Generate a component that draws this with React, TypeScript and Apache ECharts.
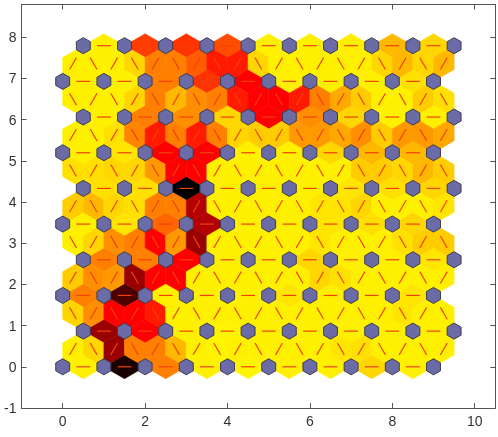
import React, { useEffect, useRef } from "react";
import * as echarts from "echarts";

// SOM: 10 x 10 hexagonal topology
const GRID_COLS = 10;
const GRID_ROWS = 10;
const xTicks = [0, 2, 4, 6, 8, 10];
const yTicks = [-1, 0, 1, 2, 3, 4, 5, 6, 7, 8];

// neighbour distances (0 = close, 1 = far) for horizontal links, per row, left to right
const hRow0 = [0.03, 0.95, 0.25, 0.03, 0.02, 0.03, 0.03, 0.08, 0.03];
const hRow1 = [0.7, 0.5, 0.03, 0.02, 0.03, 0.03, 0.03, 0.03, 0.03];
const hRow2 = [0.25, 0.85, 0.03, 0.03, 0.03, 0.05, 0.03, 0.03, 0.05];
const hRow3 = [0.25, 0.25, 0.5, 0.03, 0.03, 0.08, 0.03, 0.03, 0.05];
const hRow4 = [0.03, 0.05, 0.3, 0.65, 0.03, 0.03, 0.05, 0.06, 0.08];
const hRow5 = [0.06, 0.06, 1.0, 0.03, 0.03, 0.03, 0.05, 0.06, 0.08];
const hRow6 = [0.03, 0.05, 0.5, 0.5, 0.03, 0.03, 0.08, 0.14, 0.14];
const hRow7 = [0.03, 0.25, 0.22, 0.08, 0.5, 0.22, 0.08, 0.03, 0.03];
const hRow8 = [0.03, 0.03, 0.25, 0.4, 0.5, 0.03, 0.03, 0.03, 0.06];
const hRow9 = [0.03, 0.38, 0.4, 0.35, 0.03, 0.03, 0.03, 0.14, 0.08];

// neighbour distances for diagonal links between row g and row g+1, left to right
const dGap0 = [0.03, 0.08, 0.7, 0.25, 0.25, 0.14, 0.03, 0.02, 0.03, 0.03, 0.03, 0.03, 0.03, 0.05, 0.06, 0.03, 0.03, 0.03, 0.03];
const dGap1 = [0.08, 0.22, 0.5, 0.5, 0.45, 0.03, 0.03, 0.03, 0.03, 0.03, 0.03, 0.03, 0.03, 0.03, 0.03, 0.03, 0.05, 0.03, 0.03];
const dGap2 = [0.1, 0.22, 0.2, 0.7, 0.5, 0.5, 0.03, 0.03, 0.03, 0.03, 0.03, 0.03, 0.08, 0.06, 0.03, 0.03, 0.03, 0.03, 0.03];
const dGap3 = [0.03, 0.08, 0.22, 0.25, 0.5, 0.2, 0.7, 0.03, 0.03, 0.03, 0.03, 0.03, 0.05, 0.03, 0.03, 0.03, 0.06, 0.1, 0.1];
const dGap4 = [0.1, 0.14, 0.08, 0.06, 0.25, 0.25, 0.65, 0.03, 0.03, 0.03, 0.03, 0.03, 0.05, 0.05, 0.08, 0.03, 0.03, 0.03, 0.05];
const dGap5 = [0.06, 0.06, 0.08, 0.08, 0.2, 0.5, 0.5, 0.03, 0.03, 0.03, 0.03, 0.03, 0.03, 0.03, 0.1, 0.1, 0.08, 0.14, 0.1];
const dGap6 = [0.03, 0.03, 0.06, 0.24, 0.45, 0.25, 0.45, 0.25, 0.08, 0.1, 0.1, 0.2, 0.2, 0.17, 0.22, 0.1, 0.2, 0.2, 0.17];
const dGap7 = [0.03, 0.03, 0.03, 0.08, 0.25, 0.14, 0.22, 0.25, 0.45, 0.5, 0.5, 0.45, 0.25, 0.17, 0.1, 0.03, 0.03, 0.1, 0.06];
const dGap8 = [0.03, 0.03, 0.03, 0.08, 0.25, 0.25, 0.32, 0.45, 0.45, 0.08, 0.03, 0.03, 0.03, 0.03, 0.03, 0.08, 0.14, 0.08, 0.14];

const hRows = [hRow0, hRow1, hRow2, hRow3, hRow4, hRow5, hRow6, hRow7, hRow8, hRow9];
const dGaps = [dGap0, dGap1, dGap2, dGap3, dGap4, dGap5, dGap6, dGap7, dGap8];

const ROW_H = Math.sqrt(3) / 2;
const rowOffset = (r: number) => (r % 2) * 0.5;

function distColor(d: number) {
  const level = 1 - d;
  const r = Math.min(level * 2, 1);
  const g = Math.max(level * 2 - 1, 0);
  return `rgb(${Math.round(r * 255)},${Math.round(g * 255)},0)`;
}

function buildEdges() {
  const edges: number[][] = [];
  hRows.forEach((row, r) => {
    row.forEach((d, c) => {
      const x = c + rowOffset(r);
      edges.push([x, r * ROW_H, x + 1, r * ROW_H, d]);
    });
  });
  dGaps.forEach((gap, g) => {
    gap.forEach((d, m) => {
      const a = 0.5 * m;
      const lowerValid = Math.abs((a - rowOffset(g)) - Math.round(a - rowOffset(g))) < 1e-6;
      const lx = lowerValid ? a : a + 0.5;
      const ux = lowerValid ? a + 0.5 : a;
      edges.push([lx, g * ROW_H, ux, (g + 1) * ROW_H, d]);
    });
  });
  return edges;
}

function buildNeurons() {
  const n: number[][] = [];
  for (let r = 0; r < GRID_ROWS; r++) {
    for (let c = 0; c < GRID_COLS; c++) {
      n.push([c + rowOffset(r), r * ROW_H]);
    }
  }
  return n;
}

export default function App() {
  const ref = useRef<HTMLDivElement>(null);
  useEffect(() => {
    if (!ref.current) return;
    const chart = echarts.init(ref.current, undefined, { renderer: "svg" });
    const K = Math.sqrt(0.75) / 3;
    const NR = 0.195;
    const axisColor = "#555555";
    const labelStyle = { color: "#333", fontSize: 14, fontFamily: "Liberation Sans, Arial, sans-serif" };
    const line = { show: true, onZero: false, lineStyle: { color: axisColor, width: 1 } };
    chart.setOption({
      animation: false,
      grid: { left: 21.5, right: 2.7, top: 4.5, bottom: 29, containLabel: false, outerBoundsMode: "none" },
      xAxis: [
        {
          type: "value", min: -1, max: 10.5, position: "bottom",
          axisLine: line,
          axisTick: { show: true, inside: true, length: 5, customValues: xTicks, lineStyle: { color: axisColor } },
          axisLabel: { show: true, customValues: xTicks, margin: 6, ...labelStyle },
          splitLine: { show: false },
        },
        {
          type: "value", min: -1, max: 10.5, position: "top",
          axisLine: line,
          axisTick: { show: true, inside: true, length: 5, customValues: xTicks, lineStyle: { color: axisColor } },
          axisLabel: { show: false },
          splitLine: { show: false },
        },
      ],
      yAxis: [
        {
          type: "value", min: -1, max: 8.794, position: "left",
          axisLine: line,
          axisTick: { show: true, inside: true, length: 5, customValues: yTicks, lineStyle: { color: axisColor } },
          axisLabel: { show: true, customValues: yTicks, margin: 5, ...labelStyle },
          splitLine: { show: false },
        },
        {
          type: "value", min: -1, max: 8.794, position: "right",
          axisLine: line,
          axisTick: { show: true, inside: true, length: 5, customValues: yTicks, lineStyle: { color: axisColor } },
          axisLabel: { show: false },
          splitLine: { show: false },
        },
      ],
      series: [
        {
          type: "custom",
          coordinateSystem: "cartesian2d",
          xAxisIndex: 0, yAxisIndex: 0,
          encode: { x: [0, 2], y: [1, 3] },
          data: buildEdges(),
          z: 2,
          silent: true,
          renderItem: (params: any, api: any) => {
            const x1 = api.value(0), y1 = api.value(1), x2 = api.value(2), y2 = api.value(3), d = api.value(4);
            const mx = (x1 + x2) / 2, my = (y1 + y2) / 2;
            const dx = x2 - x1, dy = y2 - y1;
            const nx = -dy * K, ny = dx * K;
            const pts = [[x1, y1], [mx + nx, my + ny], [x2, y2], [mx - nx, my - ny]].map((p) => api.coord(p));
            const p1 = api.coord([x1 + dx / 3, y1 + dy / 3]);
            const p2 = api.coord([x1 + (2 * dx) / 3, y1 + (2 * dy) / 3]);
            const col = distColor(d);
            return {
              type: "group",
              children: [
                { type: "polygon", shape: { points: pts }, style: { fill: col, stroke: col, lineWidth: 0.6 } },
                { type: "line", shape: { x1: p1[0], y1: p1[1], x2: p2[0], y2: p2[1] }, style: { stroke: "#f2400d", lineWidth: 1.2 }, z2: 5 },
              ],
            };
          },
        },
        {
          type: "custom",
          coordinateSystem: "cartesian2d",
          xAxisIndex: 0, yAxisIndex: 0,
          encode: { x: 0, y: 1 },
          data: buildNeurons(),
          z: 4,
          silent: true,
          renderItem: (params: any, api: any) => {
            const x = api.value(0), y = api.value(1);
            const pts: number[][] = [];
            for (let i = 0; i < 6; i++) {
              const ang = Math.PI / 2 + (i * Math.PI) / 3;
              pts.push(api.coord([x + NR * Math.cos(ang), y + NR * Math.sin(ang)]));
            }
            return { type: "polygon", shape: { points: pts }, style: { fill: "#6b6ba8", stroke: "#3c3c50", lineWidth: 1 } };
          },
        },
      ],
    });
    return () => chart.dispose();
  }, []);
  return <div ref={ref} style={{ position: "fixed", left: 0, top: 0, width: 498, height: 437 }} />;
}
